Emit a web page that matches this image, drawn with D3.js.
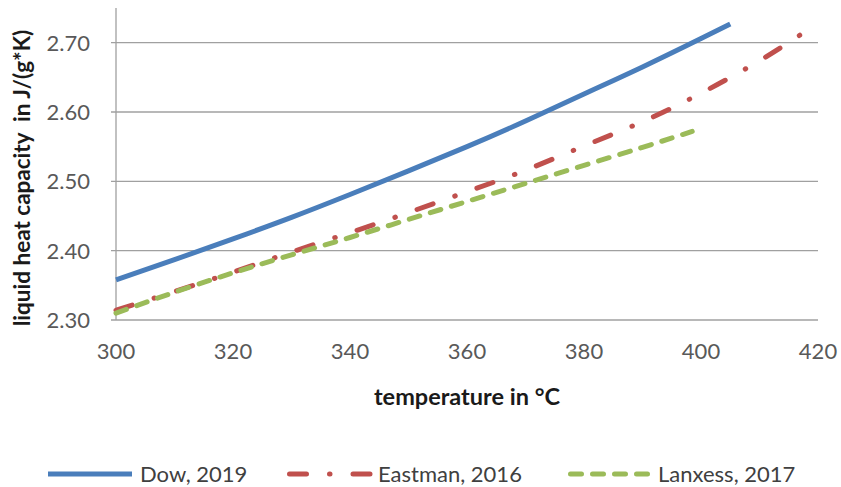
<!DOCTYPE html>
<html>
<head>
<meta charset="utf-8">
<script src="https://cdn.jsdelivr.net/npm/d3@7"></script>
<style>
  body { margin: 0; background: #fff; }
  text { font-family: Lato, "Open Sans", sans-serif; }
</style>
</head>
<body>
<div id="chart"></div>
<script>
// values
var seriesNames = ["Dow, 2019", "Eastman, 2016", "Lanxess, 2017"];
var dowT  = [300, 310, 320, 330, 340, 350, 360, 370, 380, 390, 400, 405];
var dowCp = [2.358, 2.387, 2.417, 2.448, 2.481, 2.515, 2.550, 2.587, 2.626, 2.665, 2.706, 2.727];
var eastmanT  = [300, 310, 320, 330, 340, 350, 360, 370, 380, 390, 400, 410, 418];
var eastmanCp = [2.314, 2.341, 2.369, 2.398, 2.426, 2.455, 2.485, 2.516, 2.551, 2.586, 2.627, 2.674, 2.717];
var lanxessT  = [300, 310, 320, 330, 340, 350, 360, 370, 380, 390, 398.5];
var lanxessCp = [2.310, 2.340, 2.368, 2.394, 2.419, 2.445, 2.471, 2.497, 2.523, 2.549, 2.572];
var xTicks = [300, 320, 340, 360, 380, 400, 420];
var yTicks = [2.30, 2.40, 2.50, 2.60, 2.70];

var width = 841, height = 487;
var margin = {top: 8, right: 23, bottom: 167, left: 116};

var svg = d3.select("#chart").append("svg")
  .attr("width", width)
  .attr("height", height);

var x = d3.scaleLinear().domain([300, 420]).range([margin.left, width - margin.right]);
var y = d3.scaleLinear().domain([2.30, 2.75]).range([height - margin.bottom, margin.top]);

// gridlines
svg.append("g")
  .selectAll("line")
  .data(yTicks)
  .join("line")
  .attr("x1", margin.left - 5)
  .attr("x2", width - margin.right)
  .attr("y1", function(d) { return y(d); })
  .attr("y2", function(d) { return y(d); })
  .attr("stroke", "#a0a0a0")
  .attr("stroke-width", 1.3);

// y axis line
svg.append("line")
  .attr("x1", margin.left).attr("x2", margin.left)
  .attr("y1", margin.top).attr("y2", y(2.30))
  .attr("stroke", "#a0a0a0")
  .attr("stroke-width", 1.3);

// tick labels
svg.append("g")
  .selectAll("text")
  .data(yTicks)
  .join("text")
  .attr("x", margin.left - 26)
  .attr("y", function(d) { return y(d); })
  .attr("dy", "0.36em")
  .attr("text-anchor", "end")
  .attr("fill", "#595959")
  .style("font-size", "22px")
  .text(function(d) { return d3.format(".2f")(d); });

svg.append("g")
  .selectAll("text")
  .data(xTicks)
  .join("text")
  .attr("x", function(d) { return x(d); })
  .attr("y", y(2.30) + 31)
  .attr("dy", "0.36em")
  .attr("text-anchor", "middle")
  .attr("fill", "#595959")
  .style("font-size", "22px")
  .text(function(d) { return d; });

// axis titles
svg.append("text")
  .attr("x", (margin.left + width - margin.right) / 2)
  .attr("y", 397)
  .attr("dy", "0.36em")
  .attr("text-anchor", "middle")
  .attr("fill", "#1a1a1a")
  .style("font-size", "23.5px")
  .style("font-weight", "bold")
  .text("temperature in °C");

svg.append("text")
  .attr("transform", "translate(22," + 178 + ") rotate(-90)")
  .attr("dy", "0.36em")
  .attr("text-anchor", "middle")
  .attr("fill", "#1a1a1a")
  .style("font-size", "22.5px")
  .style("font-weight", "bold")
  .style("white-space", "pre")
  .text("liquid heat capacity  in J/(g*K)");

// series
var styles = [
  {color: "#4a7ebb", dash: null, cap: "butt"},
  {color: "#c0504d", dash: "17,23,0.5,23", cap: "round"},
  {color: "#9bbb59", dash: "11,11", cap: "round"}
];
var series = [
  d3.zip(dowT, dowCp),
  d3.zip(eastmanT, eastmanCp),
  d3.zip(lanxessT, lanxessCp)
];

var line = d3.line()
  .x(function(d) { return x(d[0]); })
  .y(function(d) { return y(d[1]); })
  .curve(d3.curveNatural);

series.forEach(function(s, i) {
  svg.append("path")
    .datum(s)
    .attr("d", line)
    .attr("fill", "none")
    .attr("stroke", styles[i].color)
    .attr("stroke-width", 5)
    .attr("stroke-linecap", styles[i].cap)
    .attr("stroke-dasharray", styles[i].dash);
});

// legend
var legendY = 474;
var legendX = [48, 287, 568];
var legendLen = [84, 83, 82];
seriesNames.forEach(function(name, i) {
  svg.append("line")
    .attr("x1", legendX[i] + (styles[i].cap === "round" ? 2.5 : 0))
    .attr("x2", legendX[i] + legendLen[i])
    .attr("y1", legendY).attr("y2", legendY)
    .attr("stroke", styles[i].color)
    .attr("stroke-width", 5)
    .attr("stroke-linecap", styles[i].cap)
    .attr("stroke-dasharray", styles[i].dash);
  svg.append("text")
    .attr("x", legendX[i] + legendLen[i] + 8)
    .attr("y", legendY)
    .attr("dy", "0.36em")
    .attr("fill", "#404040")
    .style("font-size", "22px")
    .text(name);
});
</script>
</body>
</html>
